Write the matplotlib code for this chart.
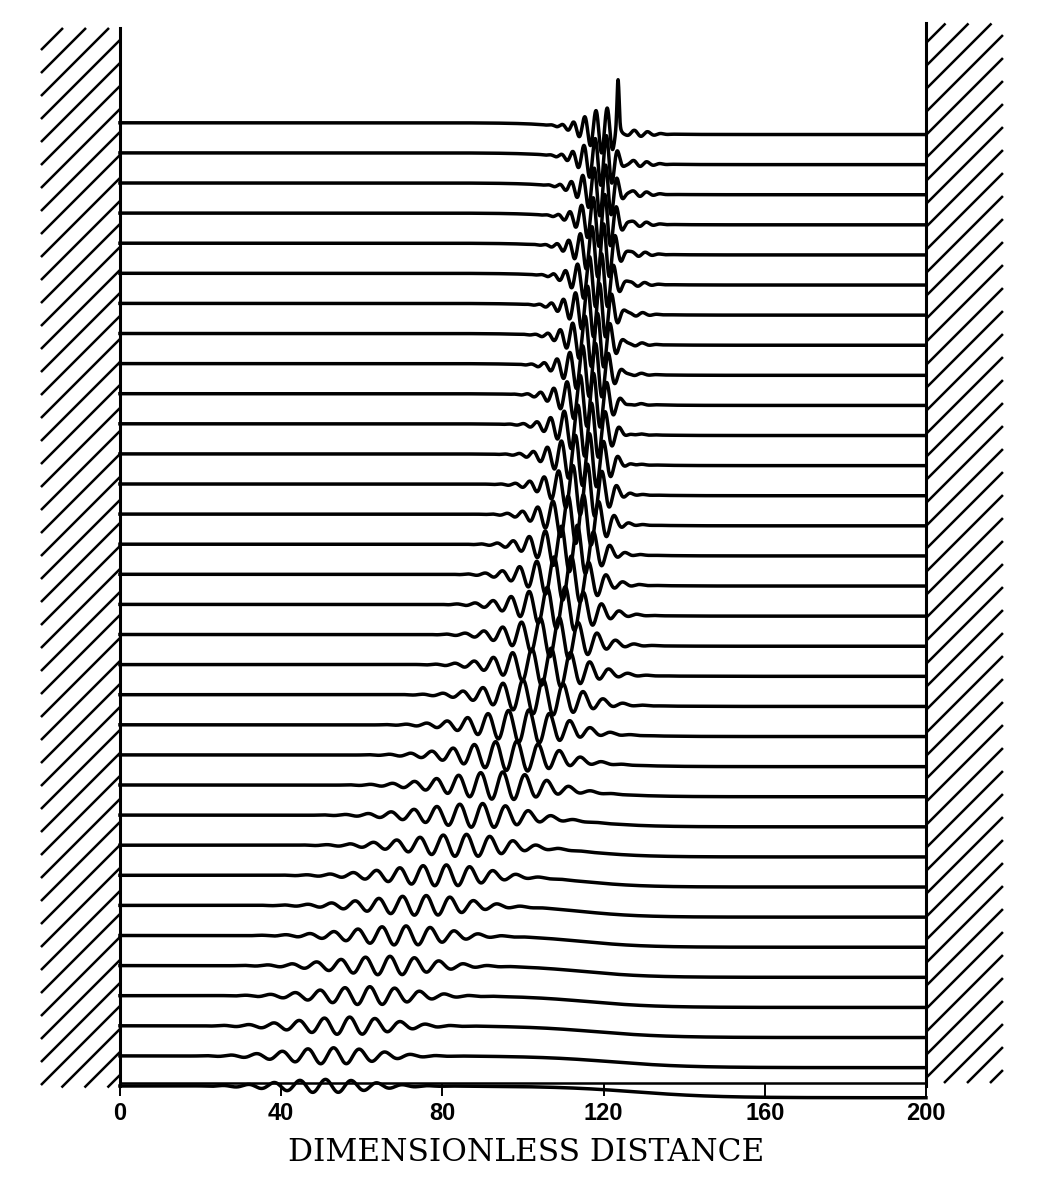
import numpy as np
import matplotlib.pyplot as plt
from matplotlib.collections import LineCollection

# Wave packet snapshots, bottom trace (earliest) to top trace (latest).
# Positions/widths in distance units, amplitudes in trace spacings.
packet_center = [51, 53, 57, 62, 67, 71, 76, 81, 86, 90,
                 95, 98.5, 101.5, 105, 107, 109, 110.5, 112, 113.5, 115,
                 116, 116.5, 117, 117.5, 118, 118.5, 119, 119.5, 120, 120.3,
                 120.5, 120.7, 120.9]
packet_amp = [0.22, 0.27, 0.29, 0.30, 0.31, 0.32, 0.33, 0.35, 0.37, 0.40,
              0.46, 0.50, 0.55, 0.59, 0.63, 0.67, 0.71, 0.75, 0.79, 0.83,
              0.86, 0.88, 0.90, 0.90, 0.90, 0.90, 0.90, 0.90, 0.90, 0.88,
              0.86, 0.84, 0.76]
wavelength = [6.4, 6.4, 6.3, 6.2, 6.1, 6.0, 5.9, 5.8, 5.8, 5.7,
              5.5, 5.3, 5.1, 5.0, 4.8, 4.7, 4.5, 4.3, 4.0, 3.8,
              3.6, 3.5, 3.4, 3.3, 3.2, 3.1, 3.0, 3.0, 2.9, 2.9,
              2.85, 2.8, 2.8]
width_left = [16, 17, 18, 18, 19, 19, 20, 20, 20, 20,
              19, 18, 17, 16, 15, 14.5, 14, 13, 12, 11,
              10.5, 10, 9.5, 9, 8.5, 8, 8, 7.5, 7.5, 7,
              7, 7, 7]
width_right = [15, 15, 15, 15, 15, 14.5, 14.5, 14, 14, 14,
               14, 13.5, 13, 12.5, 12, 11, 10, 9, 8, 7.5,
               7, 6.5, 6, 5.5, 5, 4.8, 4.5, 4.2, 4, 3.8,
               3.5, 3, 2.5]
ripple_amp = [0, 0, 0, 0, 0, 0, 0, 0, 0, 0,
              0, 0, 0, 0, 0.04, 0.05, 0.06, 0.07, 0.08, 0.08,
              0.08, 0.09, 0.09, 0.09, 0.09, 0.1, 0.1, 0.1, 0.1, 0.1,
              0.1, 0.1, 0.1]
setdown_center = [128, 122, 118, 116, 115, 114.5, 114, 114, 114, 114,
                  114, 114, 114, 114, 114.5, 114.5, 114.5, 114.5, 115, 115,
                  115, 115, 115, 115, 115, 115, 115, 115, 115, 115,
                  115, 115, 115]
setdown_width = [20, 19, 18, 17, 16, 15.5, 15, 15, 15, 15,
                 14.5, 14, 13.5, 13, 12.5, 12, 12, 12, 12, 12,
                 12, 12, 12, 12, 12, 12, 12, 12, 12, 12,
                 12, 12, 12]
setdown = 0.39

# breaking crest on the last trace
spike_x = 123.6
spike_h = 1.5

x_ticks = [0, 40, 80, 120, 160, 200]
x_label = "DIMENSIONLESS DISTANCE"
domain = (0, 200)

FIG_W, FIG_H = 1038, 1178
XLIM = (-22, 221)
YLIM = (-1.2, 35.5)
AX_RECT = [0.03015, 0.047436, 0.94345, 0.93775]
LW = 2.5


def hatch_wall(ax, x0, x1, y0, y1, x_ref, y_first, step, slope):
    # 45 degree (on screen) lines through (x_ref, y_first + j*step), cut to the box
    segs = []
    j_lo = int(np.floor((y0 - y_first - slope * (x1 - x_ref)) / step)) - 1
    j_hi = int(np.ceil((y1 - y_first - slope * (x0 - x_ref)) / step)) + 1
    for j in range(j_lo, j_hi + 1):
        yl = y_first + j * step
        xa = x_ref + (y0 - yl) / slope
        xb = x_ref + (y1 - yl) / slope
        lo, hi = max(x0, xa), min(x1, xb)
        if hi - lo > 0.05:
            segs.append([(lo, yl + slope * (lo - x_ref)), (hi, yl + slope * (hi - x_ref))])
    ax.add_collection(LineCollection(segs, colors="black", linewidths=1.8))


fig = plt.figure(figsize=(FIG_W / 100, FIG_H / 100), dpi=100)
ax = fig.add_axes(AX_RECT)
ax.set_xlim(*XLIM)
ax.set_ylim(*YLIM)

sx = AX_RECT[2] * FIG_W / (XLIM[1] - XLIM[0])
sy = AX_RECT[3] * FIG_H / (YLIM[1] - YLIM[0])
slope = sx / sy

x = np.linspace(domain[0], domain[1], 4001)
n = len(packet_center)
for k in range(n):
    d = x - packet_center[k]
    w = np.where(d < 0, width_left[k], width_right[k])
    env = np.exp(-(d / w) ** 2)
    y = packet_amp[k] * env * np.cos(2 * np.pi * d / wavelength[k])
    y += ripple_amp[k] * np.exp(-((d - 7) / 5) ** 2) * np.cos(2 * np.pi * d / (1.2 * wavelength[k]))
    base = k - 0.5 * setdown * (1 + np.tanh((x - setdown_center[k]) / setdown_width[k]))
    if k == n - 1:
        y += spike_h * np.exp(-((x - spike_x) / 0.35) ** 2)
    ax.plot(x, base + y, color="black", lw=LW, solid_joinstyle="round")

# walls at both ends of the channel
top_left, top_right = 35.15, 35.3
ax.plot([0, 0], [0, top_left], color="black", lw=2.2)
ax.plot([200, 200], [0, top_right], color="black", lw=2.2)
hatch_wall(ax, -19.6, 0, -0.05, top_left, 0, 34.75, 23 / sy, slope)
hatch_wall(ax, 200, 219.1, 0.1, top_right, 200, 34.65, 23 / sy, slope)

for side in ["left", "right", "top"]:
    ax.spines[side].set_visible(False)
ax.spines["bottom"].set_position(("data", 0.1))
ax.spines["bottom"].set_bounds(0, 200)
ax.spines["bottom"].set_linewidth(1.8)
ax.set_yticks([])
ax.set_xticks(x_ticks)
ax.set_xticklabels([str(t) for t in x_ticks], fontfamily="Liberation Sans",
                   fontweight="bold", fontsize=17)
ax.tick_params(axis="x", direction="out", length=9.5, width=1.4, pad=4.5)
ax.set_xlabel(x_label, fontfamily="DejaVu Serif", fontsize=22.5)
ax.xaxis.set_label_coords(0.5052, -0.0135)
ax.patch.set_visible(False)

fig.savefig("out.png", dpi=100)
